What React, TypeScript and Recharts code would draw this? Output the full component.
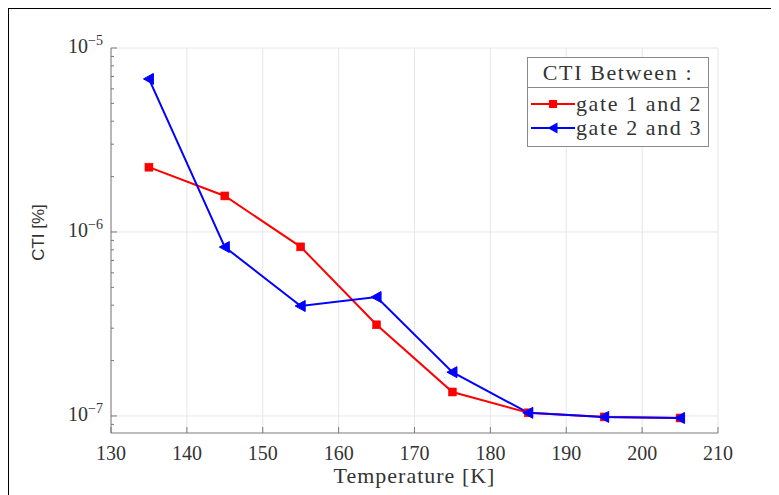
import React from 'react';
import { LineChart, Line, XAxis, YAxis, CartesianGrid, Legend } from 'recharts';

const temperatures = [135, 145, 155, 165, 175, 185, 195, 205];
const gate12 = [2.25e-6, 1.57e-6, 8.3e-7, 3.13e-7, 1.35e-7, 1.04e-7, 9.88e-8, 9.75e-8];
const gate23 = [6.79e-6, 8.28e-7, 3.96e-7, 4.43e-7, 1.73e-7, 1.04e-7, 9.88e-8, 9.75e-8];

const xTicks = [130, 140, 150, 160, 170, 180, 190, 200, 210];
const yMajorTicks = [1e-7, 1e-6, 1e-5];
const yMajorLabels = ['−7', '−6', '−5'];
const yMinorTicks = [
  9e-8,
  2e-7, 3e-7, 4e-7, 5e-7, 6e-7, 7e-7, 8e-7, 9e-7,
  2e-6, 3e-6, 4e-6, 5e-6, 6e-6, 7e-6, 8e-6, 9e-6,
];
const yDomain = [8.08e-8, 1e-5];
const xDomain = [130, 210];

const seriesNames = ['gate 1 and 2', 'gate 2 and 3'];
const legendTitle = 'CTI Between :';
const xLabel = 'Temperature [K]';
const yLabel = 'CTI [%]';

const RED = '#ff0000';
const BLUE = '#0000ff';
const FRAME = '#7a7a7a';
const GRID = '#e6e6e6';
const TEXT = '#333333';
const SERIF = '"Liberation Serif", "Times New Roman", serif';
const SANS = '"Liberation Sans", Arial, sans-serif';

const data = temperatures.map((t, i) => ({ t, g12: gate12[i], g23: gate23[i] }));
const allYTicks = [...yMinorTicks, ...yMajorTicks].sort((a, b) => a - b);

const majorIndex = (v: number) =>
  yMajorTicks.findIndex((m) => Math.abs(m - v) / m < 1e-6);

const BottomTick = (p: any) => (
  <g>
    <line x1={p.x} y1={p.y} x2={p.x} y2={p.y - 6} stroke={FRAME} strokeWidth={1} />
    <text x={p.x} y={p.y + 27} textAnchor="middle" fontSize={20} fontFamily={SERIF} fill={TEXT}>
      {p.payload.value}
    </text>
  </g>
);

const TopTick = (p: any) => (
  <line x1={p.x} y1={p.y} x2={p.x} y2={p.y + 6} stroke={FRAME} strokeWidth={1} />
);

const LeftTick = (p: any) => {
  const idx = majorIndex(p.payload.value);
  const len = idx >= 0 ? 6 : 3;
  return (
    <g>
      <line x1={p.x} y1={p.y} x2={p.x + len} y2={p.y} stroke={FRAME} strokeWidth={1} />
      {idx >= 0 && (
        <text x={p.x - 8} y={p.y + 5} textAnchor="end" fontFamily={SERIF} fill={TEXT}>
          <tspan fontSize={20}>10</tspan>
          <tspan fontSize={14} dy={-8}>{yMajorLabels[idx]}</tspan>
        </text>
      )}
    </g>
  );
};

const RightTick = (p: any) => {
  const idx = majorIndex(p.payload.value);
  const len = idx >= 0 ? 6 : 3;
  return <line x1={p.x} y1={p.y} x2={p.x - len} y2={p.y} stroke={FRAME} strokeWidth={1} />;
};

const SquareDot = (p: any) => {
  if (p.cx == null || p.cy == null) return null;
  return <rect x={p.cx - 4} y={p.cy - 4} width={8} height={8} fill={RED} stroke={RED} strokeWidth={0.5} />;
};

const TriDot = (p: any) => {
  if (p.cx == null || p.cy == null) return null;
  return (
    <polygon
      points={`${p.cx - 5.5},${p.cy} ${p.cx + 4.5},${p.cy - 5.5} ${p.cx + 4.5},${p.cy + 5.5}`}
      fill={BLUE}
      stroke={BLUE}
      strokeWidth={1}
    />
  );
};

const LegendBox = () => {
  const row = (color: string, name: string, shape: 'sq' | 'tri') => (
    <div style={{ display: 'flex', alignItems: 'center', height: 24 }}>
      <svg width={44} height={14} style={{ marginLeft: 3, flex: 'none' }}>
        <line x1={0} y1={7} x2={44} y2={7} stroke={color} strokeWidth={2} />
        {shape === 'sq' ? (
          <rect x={18} y={3} width={8} height={8} fill={color} />
        ) : (
          <polygon points="16.5,7 26.5,1.5 26.5,12.5" fill={color} />
        )}
      </svg>
      <span style={{ marginLeft: 1, whiteSpace: 'nowrap' }}>{name}</span>
    </div>
  );
  return (
    <div
      style={{
        width: 182,
        height: 90,
        boxSizing: 'border-box',
        border: '1px solid #8a8a8a',
        background: '#fff',
        fontFamily: SERIF,
        fontSize: 22,
        letterSpacing: 1.6,
        color: TEXT,
        overflow: 'hidden',
      }}
    >
      <div
        style={{
          height: 29,
          lineHeight: '29px',
          textAlign: 'center',
          borderBottom: '1px solid #8a8a8a',
          whiteSpace: 'nowrap',
        }}
      >
        {legendTitle}
      </div>
      <div style={{ paddingTop: 4, lineHeight: '24px' }}>
        {row(RED, seriesNames[0], 'sq')}
        {row(BLUE, seriesNames[1], 'tri')}
      </div>
    </div>
  );
};

export default function App() {
  return (
    <div style={{ width: 771, height: 487, border: '1px solid #000', background: '#fff' }}>
      <LineChart
        width={771}
        height={486}
        data={data}
        margin={{ top: 39, right: 62, bottom: 2, left: 2 }}
      >
        <CartesianGrid
          xAxisId="b"
          yAxisId="l"
          stroke={GRID}
          horizontalValues={yMajorTicks}
          verticalValues={xTicks}
        />
        <XAxis
          xAxisId="b"
          dataKey="t"
          type="number"
          domain={xDomain}
          ticks={xTicks}
          interval={0}
          allowDataOverflow
          orientation="bottom"
          height={60}
          tickSize={0}
          tickMargin={0}
          tickLine={false}
          axisLine={{ stroke: FRAME }}
          tick={BottomTick}
          label={{
            value: xLabel,
            content: (lp: any) => {
              const vb = lp.viewBox || {};
              return (
                <text
                  x={vb.x + vb.width / 2}
                  y={vb.y + 50}
                  textAnchor="middle"
                  fontSize={22}
                  letterSpacing={1}
                  fontFamily={SERIF}
                  fill={TEXT}
                >
                  {xLabel}
                </text>
              );
            },
          }}
        />
        <XAxis
          xAxisId="t"
          dataKey="t"
          type="number"
          domain={xDomain}
          ticks={xTicks}
          interval={0}
          allowDataOverflow
          orientation="top"
          height={0}
          tickSize={0}
          tickMargin={0}
          tickLine={false}
          axisLine={{ stroke: FRAME }}
          tick={TopTick}
        />
        <YAxis
          yAxisId="l"
          scale="log"
          type="number"
          domain={yDomain}
          ticks={allYTicks}
          interval={0}
          allowDataOverflow
          width={100}
          tickSize={0}
          tickMargin={0}
          tickLine={false}
          axisLine={{ stroke: FRAME }}
          tick={LeftTick}
          label={{
            value: yLabel,
            content: (lp: any) => {
              const vb = lp.viewBox || {};
              const cx = vb.x + 27;
              const cy = vb.y + vb.height / 2 - 8;
              return (
                <text
                  x={cx}
                  y={cy}
                  transform={`rotate(-90, ${cx}, ${cy})`}
                  textAnchor="middle"
                  dominantBaseline="central"
                  fontSize={17}
                  fontFamily={SANS}
                  fill={TEXT}
                >
                  {yLabel}
                </text>
              );
            },
          }}
        />
        <YAxis
          yAxisId="r"
          orientation="right"
          scale="log"
          type="number"
          domain={yDomain}
          ticks={allYTicks}
          interval={0}
          allowDataOverflow
          width={0}
          tickSize={0}
          tickMargin={0}
          tickLine={false}
          axisLine={{ stroke: FRAME }}
          tick={RightTick}
        />
        <Line
          xAxisId="b"
          yAxisId="l"
          type="linear"
          dataKey="g12"
          name={seriesNames[0]}
          stroke={RED}
          strokeWidth={2}
          dot={SquareDot}
          activeDot={false}
          isAnimationActive={false}
        />
        <Line
          xAxisId="b"
          yAxisId="l"
          type="linear"
          dataKey="g23"
          name={seriesNames[1]}
          stroke={BLUE}
          strokeWidth={2}
          dot={TriDot}
          activeDot={false}
          isAnimationActive={false}
        />
        <Legend
          layout="vertical"
          align="center"
          verticalAlign="middle"
          wrapperStyle={{ left: 518, top: 48, width: 182, height: 90 }}
          content={() => <LegendBox />}
        />
      </LineChart>
    </div>
  );
}
